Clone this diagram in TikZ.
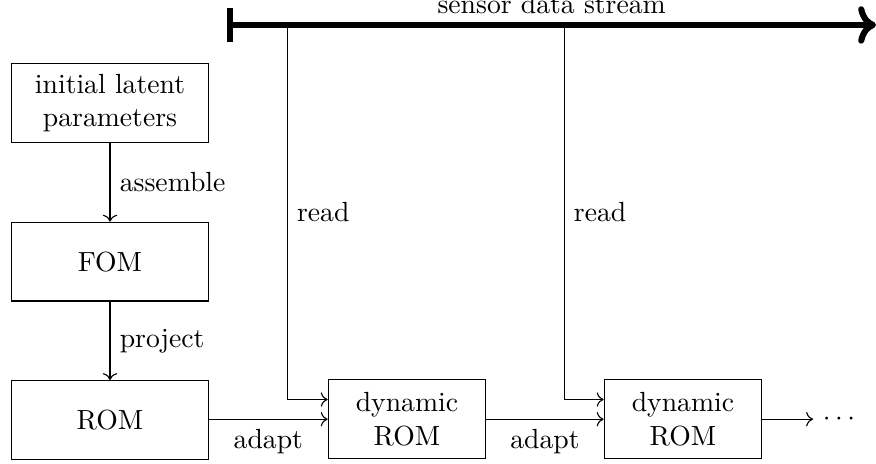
\documentclass[tikz,border=0pt]{standalone}
\usetikzlibrary{arrows.meta}
\begin{document}
\begin{tikzpicture}[
  box/.style={draw, rectangle, align=center, minimum width=2.5cm, minimum height=1cm, line width=0.4pt},
  dynbox/.style={draw, rectangle, align=center, minimum width=2cm, minimum height=1cm, line width=0.4pt},
  conn/.style={->, line width=0.4pt},
  stream/.style={{Bar[width=12pt]}-{To}, line width=2.2pt}
]
\useasboundingbox (0,0) rectangle (11.117,-5.876);
\node[box] (init) at (1.396,-1.31) {initial latent\\parameters};
\node[box] (fom) at (1.396,-3.32) {FOM};
\node[box] (rom) at (1.396,-5.33) {ROM};
\node[dynbox] (dyn1) at (5.165,-5.32) {dynamic\\ROM};
\node[dynbox] (dyn2) at (8.667,-5.32) {dynamic\\ROM};
\node (dots) at (10.647,-5.32) {$\cdots$};
\coordinate (s0) at (2.885,-0.317);
\coordinate (s1) at (11.117,-0.317);
\draw[stream] (s0) -- node[above, inner sep=3pt] {sensor data stream} (s1);
\coordinate (r1) at (3.646,-0.317);
\coordinate (r2) at (7.16,-0.317);
\coordinate (in1) at ([yshift=0.25cm]dyn1.west);
\coordinate (in2) at ([yshift=0.25cm]dyn2.west);
\draw[conn] (r1) -- node[right] {read} (r1 |- in1) -- (in1);
\draw[conn] (r2) -- node[right] {read} (r2 |- in2) -- (in2);
\draw[conn] (init) -- node[right] {assemble} (fom);
\draw[conn] (fom) -- node[right] {project} (rom);
\draw[conn] (rom.east |- dyn1.west) -- node[below] {adapt} (dyn1.west);
\draw[conn] (dyn1) -- node[below] {adapt} (dyn2);
\draw[conn] (dyn2) -- (dots);
\end{tikzpicture}
\end{document}
